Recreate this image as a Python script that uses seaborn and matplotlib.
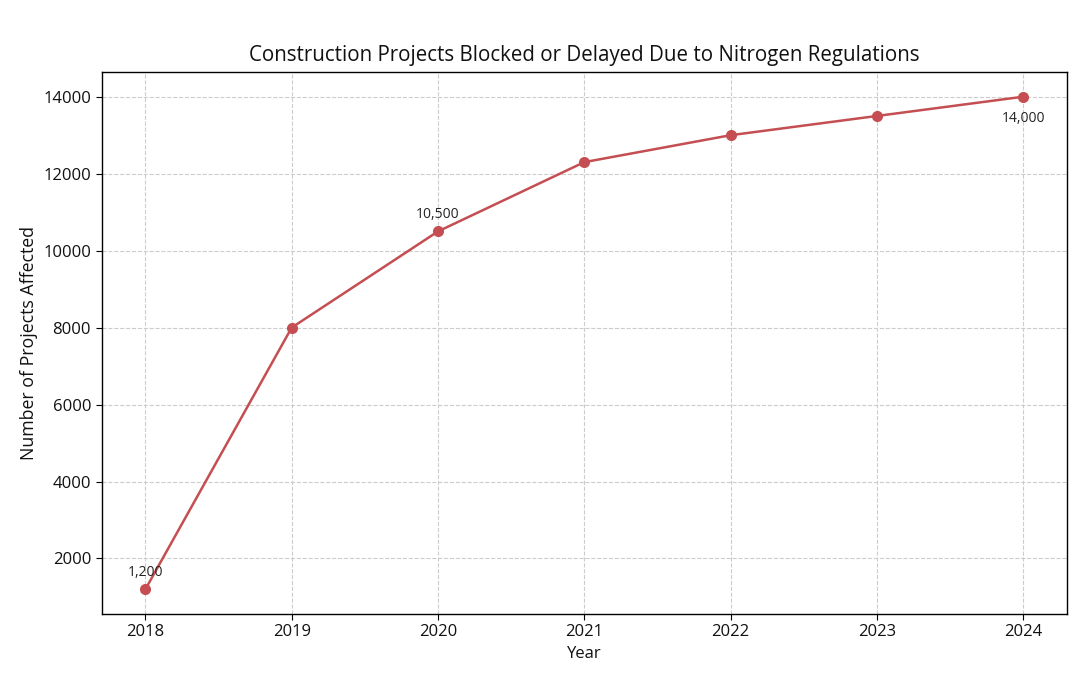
import pandas as pd
import matplotlib.pyplot as plt
import seaborn as sns

# data
years = [2018, 2019, 2020, 2021, 2022, 2023, 2024]
projects = [1200, 8000, 10500, 12300, 13000, 13500, 14000]
label_years = [2018, 2020, 2024]
label_offsets = [12, 12, -16]

df = pd.DataFrame({'Year': years, 'Projects': projects})

sns.set_style('whitegrid')
plt.rcParams['font.family'] = ['Open Sans', 'DejaVu Sans']

fig = plt.figure(figsize=(10.8, 7), dpi=100)
ax = fig.add_axes([0.094, 0.123, 0.894, 0.774])

sns.lineplot(data=df, x='Year', y='Projects', marker='o', color='#C44E52',
             linewidth=1.8, markersize=8, markeredgewidth=0, ax=ax)

for yr, off in zip(label_years, label_offsets):
    val = projects[years.index(yr)]
    ax.annotate(f'{val:,}', (yr, val), textcoords='offset points', xytext=(0, off),
                ha='center', va='center', fontsize=10, color='#222222')

ax.set_title('Construction Projects Blocked or Delayed Due to Nitrogen Regulations',
             fontsize=14.8, pad=8, color='#111111')
ax.set_xlabel('Year', fontsize=12, color='#111111')
ax.set_ylabel('Number of Projects Affected', fontsize=12.8, color='#111111')
ax.set_xticks(years)
ax.tick_params(axis='both', labelsize=12, length=4, color='black', labelcolor='#111111',
               left=True, bottom=True)
ax.grid(True, linestyle='--', color='#cccccc', linewidth=0.8)
for s in ax.spines.values():
    s.set_color('black')
    s.set_linewidth(1)

plt.savefig('out.png')
